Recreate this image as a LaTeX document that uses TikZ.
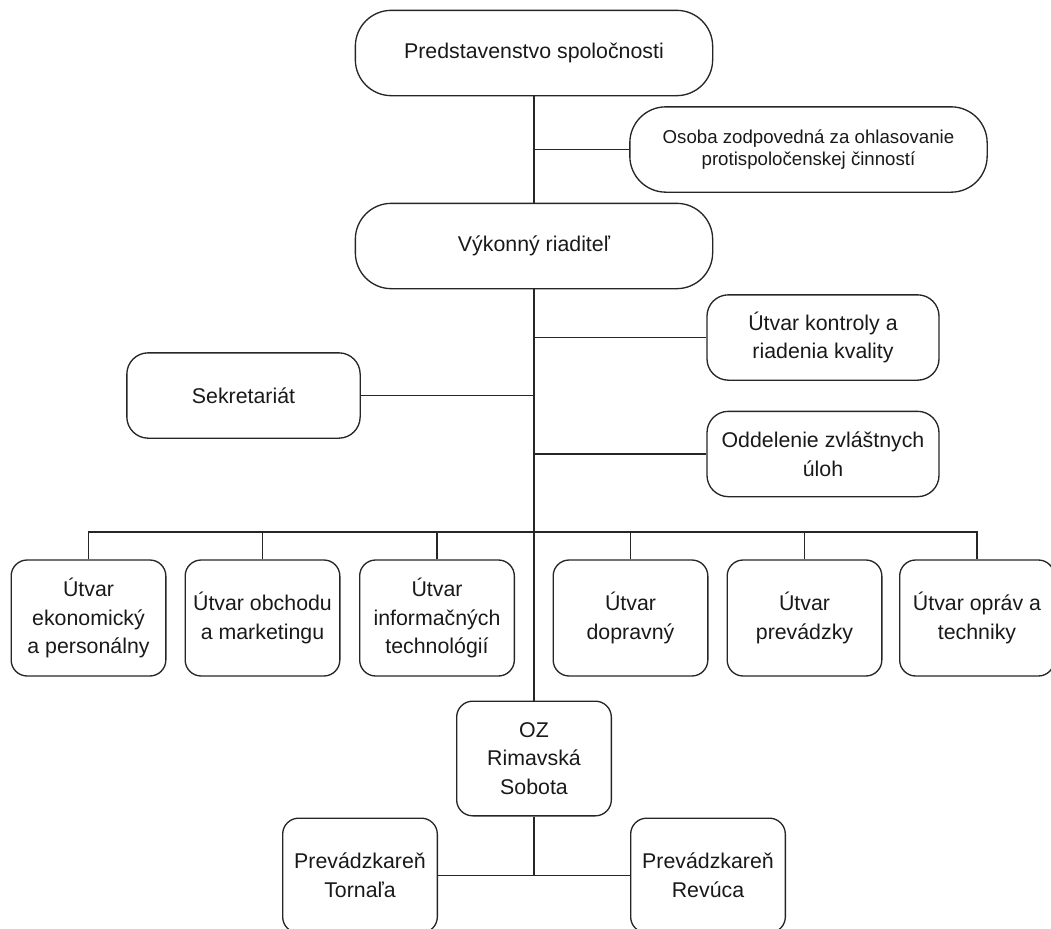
\documentclass[tikz,border=0pt]{standalone}
\usepackage{fontspec}
\setmainfont{Liberation Sans}
\definecolor{linegray}{gray}{0.15}
\tikzset{
    box/.style={draw=linegray, line width=1pt, rounded corners=12pt, align=center,
        text=black!90, font=\fontsize{16}{21.5}\selectfont, inner sep=2pt},
    bigbox/.style={box, rounded corners=27pt},
    midbox/.style={box, rounded corners=16pt},
    link/.style={draw=linegray, line width=1pt}
}
\begin{document}
\begin{tikzpicture}[x=0.75pt, y=-0.75pt]
        \useasboundingbox (0,0) rectangle (1051,929);

        % top part
        \node[bigbox, minimum width=268pt, minimum height=64pt] (board) at (534,53) {Predstavenstvo spoločnosti};
        \node[bigbox, minimum width=268pt, minimum height=64pt, font=\fontsize{14}{17}\selectfont] (person) at (808.5,149.5) {Osoba zodpovedná za ohlasovanie\\protispoločenskej činností};
        \node[bigbox, minimum width=268pt, minimum height=64pt] (director) at (534,246) {Výkonný riaditeľ};

        % staff units
        \node[midbox, minimum width=174pt, minimum height=64pt] (quality) at (823,337.5) {Útvar kontroly a\\riadenia kvality};
        \node[midbox, minimum width=175pt, minimum height=64pt] (secretary) at (243.5,395.5) {Sekretariát};
        \node[midbox, minimum width=174pt, minimum height=64pt] (special) at (823,454) {Oddelenie zvláštnych\\úloh};

        % departments
        \node[box, minimum width=116pt, minimum height=87pt] (econ) at (88.5,618) {Útvar\\ekonomický\\a personálny};
        \node[box, minimum width=116pt, minimum height=87pt] (trade) at (262.5,618) {Útvar obchodu\\a marketingu};
        \node[box, minimum width=116pt, minimum height=87pt] (infotech) at (437,618) {Útvar\\informačných\\technológií};
        \node[box, minimum width=116pt, minimum height=87pt] (transport) at (630.5,618) {Útvar\\dopravný};
        \node[box, minimum width=116pt, minimum height=87pt] (operation) at (804.5,618) {Útvar\\prevádzky};
        \node[box, minimum width=116pt, minimum height=87pt] (repair) at (977,618) {Útvar opráv a\\techniky};

        % branch
        \node[box, minimum width=116pt, minimum height=86pt] (branch) at (534,758.5) {OZ\\Rimavská\\Sobota};
        \node[box, minimum width=116pt, minimum height=86pt] (tornala) at (360,875.5) {Prevádzkareň\\Tornaľa};
        \node[box, minimum width=116pt, minimum height=86pt] (revuca) at (708,875.5) {Prevádzkareň\\Revúca};

        \coordinate (bus) at (535,532);

        % lines
        \draw[link] (board.south) -- (director.north);
        \draw[link] (person.west) -- (person.west -| board.south);
        \draw[link] (director.south) -- (branch.north);
        \draw[link] (quality.west) -- (quality.west -| director.south);
        \draw[link] (secretary.east) -- (secretary.east -| director.south);
        \draw[link] (special.west) -- (special.west -| director.south);

        \draw[link] (econ.north) |- (bus) -| (repair.north);
        \draw[link] (trade.north) -- (trade.north |- bus);
        \draw[link] (infotech.north) -- (infotech.north |- bus);
        \draw[link] (transport.north) -- (transport.north |- bus);
        \draw[link] (operation.north) -- (operation.north |- bus);

        \draw[link] (branch.south) -- (branch.south |- tornala.east);
        \draw[link] (tornala.east) -- (revuca.west);
    \end{tikzpicture}
\end{document}
